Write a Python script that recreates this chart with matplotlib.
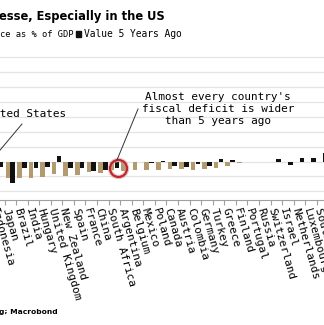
import matplotlib
matplotlib.use("Agg")
import matplotlib.pyplot as plt
import numpy as np
from matplotlib.patches import Ellipse

# countries, sorted by current budget balance
countries = ["Indonesia", "Japan", "Brazil", "India", "Hungary", "United Kingdom",
             "New Zealand", "Spain", "France", "China", "South Africa", "Argentina",
             "Belgium", "Mexico", "Poland", "Canada", "Austria", "Colombia",
             "Germany", "Turkey", "Greece", "Finland", "Portugal", "Russia",
             "Switzerland", "Israel", "Netherlands", "Luxembourg", "South Korea"]

# budget balance as % of GDP
balance_now = [-5.6, -5.4, -5.6, -5.5, -5.1, -4.2, -4.8, -4.5, -3.4, -3.9, -3.0, -3.3,
               -3.0, -3.0, -2.8, -2.6, -2.6, -2.9, -2.5, -2.3, -1.4, -0.4, -0.3, -0.3,
               -0.2, -0.1, -0.1, -0.1, -0.1]
# value 5 years ago
balance_5y = [-1.7, -7.1, -2.2, -2.2, -1.7, 1.9, -2.2, -2.2, -3.2, -2.9, -2.3, -0.3,
              -0.3, -0.5, 0.3, -1.5, -2.0, -0.8, -1.5, 0.8, 0.6, -0.3, -0.3, -0.3,
              1.0, -1.3, 1.2, 1.2, 2.9]

TAN = "#b49a6f"
W, H = 324, 325

fig = plt.figure(figsize=(W / 100, H / 100), dpi=100)

def px(x, y):
    return x / W, 1 - y / H

# axes placed in pixel terms, reaching past the left and right edges
ax_left, ax_right, ax_top, ax_bot = -70, 340, 53, 200
ax = fig.add_axes([ax_left / W, 1 - ax_bot / H, (ax_right - ax_left) / W, (ax_bot - ax_top) / H])

step = 11.6
x0 = -1.1
ax.set_xlim((ax_left - x0) / step, (ax_right - x0) / step)
zero_px, k = 161.5, 2.98
ax.set_ylim(-(ax_bot - zero_px) / k, (zero_px - ax_top) / k)

idx = np.arange(len(countries))
ax.bar(idx - 0.21, balance_now, width=0.4, color=TAN, zorder=3)
ax.bar(idx + 0.21, balance_5y, width=0.4, color="#111111", zorder=3)

ax.set_yticks(np.arange(-10, 40, 5))
ax.yaxis.grid(True, color="#e4e4e4", lw=0.9)
ax.set_axisbelow(True)
ax.tick_params(axis="y", left=False, labelleft=False)
for s in ["top", "right", "left"]:
    ax.spines[s].set_visible(False)
ax.spines["bottom"].set_color("#a0a0a0")
ax.spines["bottom"].set_linewidth(0.8)

ax.set_xticks(idx)
ax.set_xticklabels(countries, rotation=-74, ha="left", va="top",
                   rotation_mode="anchor", family="DejaVu Sans Mono", fontsize=8)
ax.tick_params(axis="x", length=0, pad=5)
ax.set_xticks(np.arange(-6, 30) + 0.5, minor=True)
ax.tick_params(axis="x", which="minor", length=3.5, color="#a0a0a0", width=0.8)

# title block
fig.text(*px(-1, 20), "esse, Especially in the US", fontsize=8.3, fontweight="bold",
         ha="left", va="baseline")
fig.text(*px(0, 37), "ce as % of GDP", family="DejaVu Sans Mono", fontsize=6.3,
         ha="left", va="baseline")
fig.patches.append(plt.Rectangle(px(76, 37), 5 / W, 6 / H, transform=fig.transFigure,
                                 color="#111111", figure=fig))
fig.text(*px(84, 37), "Value 5 Years Ago", family="DejaVu Sans Mono", fontsize=6.9,
         ha="left", va="baseline")

# annotations
mono = dict(family="DejaVu Sans Mono", fontsize=7.9)
fig.text(*px(-20, 117), "United States", ha="left", va="baseline", **mono)
fig.text(*px(218, 109), "Almost every country's\nfiscal deficit is wider\nthan 5 years ago",
         ha="center", va="center", linespacing=1.3, **mono)
fig.add_artist(plt.Line2D([22 / W, -10 / W], [1 - 124 / H, 1 - 162 / H], color="#333333", lw=0.7))
fig.add_artist(plt.Line2D([138 / W, 117 / W], [1 - 109 / H, 1 - 160 / H], color="#333333", lw=0.7))
fig.add_artist(Ellipse(px(118.5, 168.5), 17 / W, 17 / H, transform=fig.transFigure,
                       fill=False, ec="#d8a0a0", lw=3.2, alpha=0.6))
fig.add_artist(Ellipse(px(118.5, 168.5), 17 / W, 17 / H, transform=fig.transFigure,
                       fill=False, ec="#c0282d", lw=1.6))

fig.text(*px(-1, 314), "g; Macrobond", fontsize=5.4, fontweight="bold",
         ha="left", va="baseline")

fig.savefig("out.png", dpi=100)
